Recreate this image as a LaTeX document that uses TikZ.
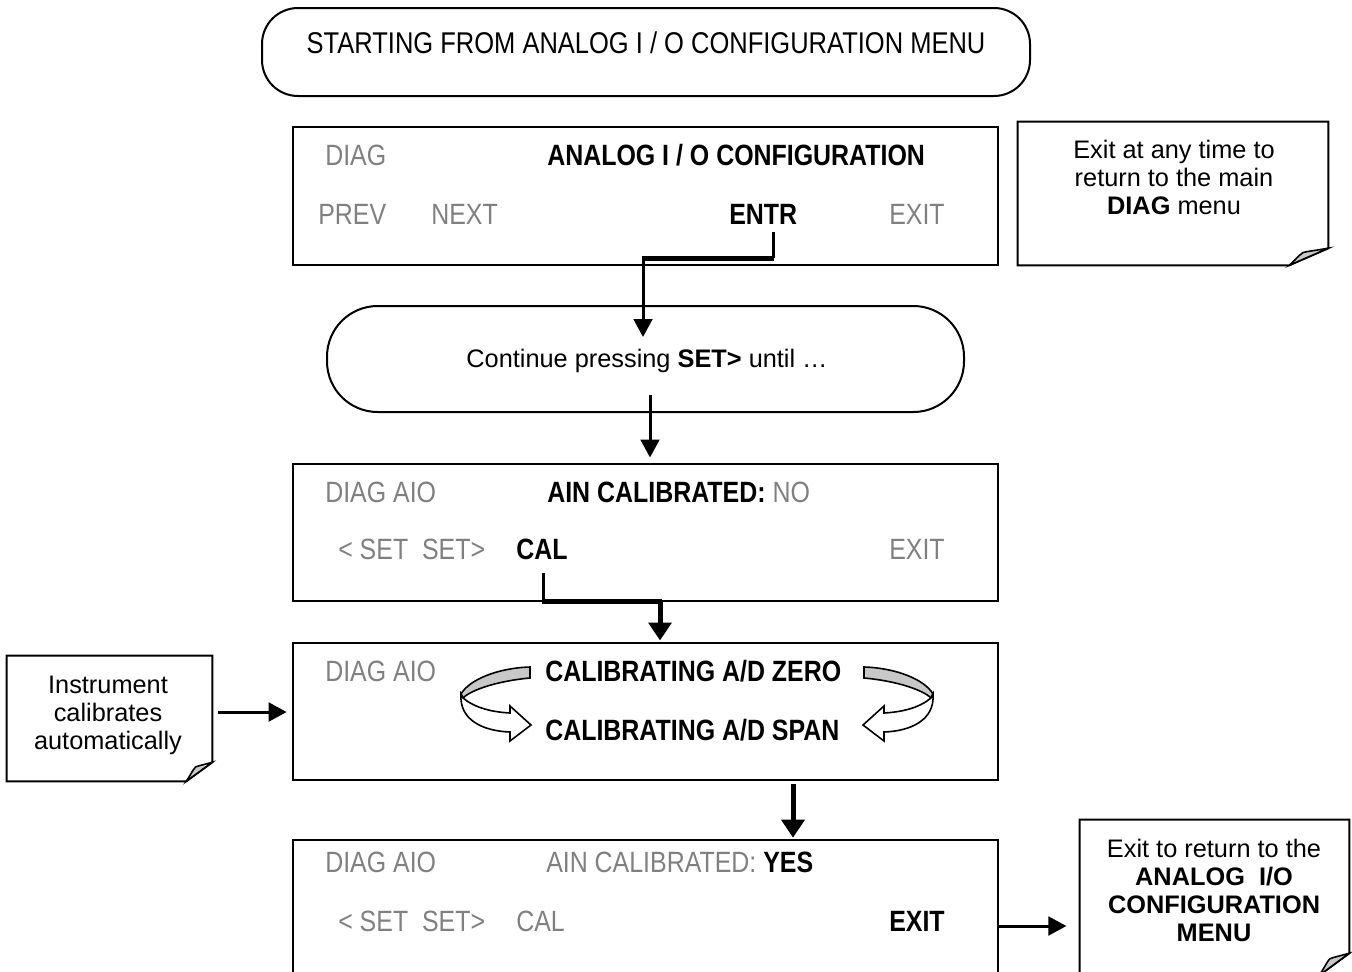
\documentclass[tikz,border=0pt]{standalone}
\usepackage{fontspec}
\setmainfont{Liberation Sans}
\newfontfamily\lcdfont[FakeStretch=0.85]{Liberation Sans}
\definecolor{dimgray}{RGB}{128,128,128}
\definecolor{foldgray}{RGB}{200,200,200}
\usetikzlibrary{arrows.meta,calc}

% note frame with a curled corner
\newcommand{\foldnote}[3]{%
  \draw[line width=1.5pt] (#1.north west) -- (#1.north east) -- ($(#1.south east)+(0,-#3)$) -- ($(#1.south east)+(-#2,0)$) -- (#1.south west) -- cycle;
  \filldraw[fill=foldgray, line width=1.2pt] ($(#1.south east)+(-#2,0)$) .. controls ($(#1.south east)+(-#2*0.75,-#3*0.5)$) and ($(#1.south east)+(-#2*0.7,-#3*0.8)$) .. ($(#1.south east)+(-#2*0.55,-#3*0.8)$) -- ($(#1.south east)+(0,-#3)$) -- cycle;}

\tikzset{
  panel/.style={draw, line width=1.5pt, minimum width=528.75pt, minimum height=103pt, inner sep=0pt},
  term/.style={draw, line width=1.5pt, inner sep=0pt},
  lcd/.style={font=\lcdfont\fontsize{22}{26}\selectfont, anchor=base west, inner sep=0pt},
  dimtext/.style={lcd, text=dimgray},
  lcdb/.style={lcd, font=\lcdfont\fontsize{22}{26}\selectfont\bfseries},
  notetext/.style={font=\fontsize{19}{21}\selectfont, align=center, inner sep=0pt},
  conn/.style={line width=2.25pt},
  thickconn/.style={line width=3.75pt},
  arrowtip/.style={-{Triangle[length=13.5pt,width=14pt]}},
  swirl/.pic={
    % back of the ribbon
    \filldraw[fill=foldgray, line width=1.2pt] (-167,-33) -- (-167,-22) .. controls (-200,-19) and (-226,-10) .. (-234,-2) -- (-236,-6) .. controls (-228,-20) and (-200,-32) .. (-167,-33) -- cycle;
    % front of the ribbon
    \filldraw[fill=white, line width=1.2pt] (-234,-2) .. controls (-222,8) and (-205,12) .. (-187,13) -- (-187,6) -- (-166,25) -- (-187,41) -- (-187,32) .. controls (-214,31) and (-238,20) .. (-236,-6) -- cycle;
  }
}

\begin{document}
\begin{tikzpicture}[x=0.75pt, y=-0.75pt]
    \useasboundingbox (0,0) rectangle (1352,971);
    \clip (0,0) rectangle (1352,971);

    % Start terminator
    \node[term, rounded corners=27pt, minimum width=576pt, minimum height=66pt] (start) at (646,52) {};
    \node[lcd, anchor=base, font=\lcdfont\fontsize{22.5}{26}\selectfont] (starttxt) at (646,53) {STARTING FROM ANALOG I / O CONFIGURATION MENU};

    % Analog I/O configuration screen
    \node[panel] (aio) at (645.5,196) {};
    \node[dimtext] (diag1) at (325,165) {DIAG};
    \node[lcdb] (title1) at (547,165) {ANALOG I / O CONFIGURATION};
    \node[dimtext] (prev) at (318,224) {PREV};
    \node[dimtext] (next) at (431,224) {NEXT};
    \node[lcdb] (entr) at (729,224) {ENTR};
    \node[dimtext] (exit1) at (889,224) {EXIT};

    % Note: exit any time
    \node[minimum width=232.5pt, minimum height=107.25pt] (note1) at (1173,193.5) {};
    \foldnote{note1}{39}{17}
    \node[notetext] (note1txt) at (1174,177) {Exit at any time to\\return to the main\\\textbf{DIAG} menu};

    % Continue terminator
    \node[term, rounded corners=38pt, minimum width=477.75pt, minimum height=79.5pt] (cont) at (645.5,359) {};
    \node[notetext] (conttxt) at (647,361) {Continue pressing \textbf{SET>} until …};

    % AIN calibrated: NO
    \node[panel] (ainno) at (645.5,532.5) {};
    \node[dimtext] (diag2) at (325,502) {DIAG AIO};
    \node[lcdb] (ain2) at (547,502) {AIN CALIBRATED: \textcolor{dimgray}{\mdseries NO}};
    \node[dimtext] (set2) at (338,559) {< SET~~SET>};
    \node[lcdb] (cal2) at (516,559) {CAL};
    \node[dimtext] (exit2) at (889,559) {EXIT};

    % Calibrating
    \node[panel] (calib) at (645.5,711.5) {};
    \node[dimtext] (diag3) at (325,681) {DIAG AIO};
    \node[lcdb] (zero) at (545,681) {CALIBRATING A/D ZERO};
    \node[lcdb] (span) at (545,740) {CALIBRATING A/D SPAN};
    \pic at (697,700) {swirl};
    \pic[xscale=-1] at (697,700) {swirl};

    % Note: automatic
    \node[minimum width=153.75pt, minimum height=93.75pt] (note2) at (109.5,718.5) {};
    \foldnote{note2}{26}{19}
    \node[notetext] (note2txt) at (108,715) {Instrument\\calibrates\\automatically};

    % AIN calibrated: YES
    \node[panel, minimum height=112pt] (ainyes) at (645.5,914.7) {};
    \node[dimtext] (diag4) at (325,872) {DIAG AIO};
    \node[dimtext] (ain4) at (546,872) {AIN CALIBRATED: \textcolor{black}{\bfseries YES}};
    \node[dimtext] (set4) at (338,931) {< SET~~SET>};
    \node[dimtext] (cal4) at (516,931) {CAL};
    \node[lcdb] (exit4) at (889,931) {EXIT};

    % Note: exit to menu
    \node[minimum width=201.75pt, minimum height=116.25pt] (note3) at (1214.5,897.5) {};
    \foldnote{note3}{30}{22}
    \node[notetext] (note3txt) at (1214,890) {Exit to return to the\\\textbf{ANALOG~~I/O}\\\textbf{CONFIGURATION}\\\textbf{MENU}};

    % Connectors
    \coordinate (entrbend) at (773,258);
    \coordinate (entrturn) at (643,258);
    \coordinate (enttip) at (643,337);
    \draw[conn] ([yshift=-6pt]entrbend |- entr.south) -- (entrbend);
    \draw[thickconn] ([xshift=0.6pt]entrbend) -- ([xshift=-1pt]entrturn);
    \draw[conn, arrowtip] (entrturn) -- (enttip);

    \coordinate (contout) at (650,395);
    \draw[conn, arrowtip] (contout) -- ([yshift=4pt]contout |- ainno.north);

    \coordinate (calbend) at (543,601);
    \coordinate (calturn) at (660,601);
    \draw[conn] ([yshift=-10pt]calbend |- cal2.south) -- (calbend);
    \draw[thickconn] ([xshift=-0.8pt]calbend) -- ([xshift=1.4pt]calturn);
    \draw[thickconn, -{Triangle[length=13.5pt,width=17pt]}] (calturn) -- ([yshift=1pt]calturn |- calib.north);

    \draw[conn, arrowtip, shorten <=4pt, shorten >=4pt] (note2.east |- 0,712) -- (calib.west |- 0,712);

    \coordinate (drop) at (793,0);
    \draw[thickconn, -{Triangle[length=13.5pt,width=17pt]}] ([yshift=-2pt]drop |- calib.south) -- ([yshift=1pt]drop |- ainyes.north);

    \coordinate (exitrow) at (0,926);
    \draw[conn, arrowtip, shorten >=10pt] (ainyes.east |- exitrow) -- (note3.west |- exitrow);
\end{tikzpicture}
\end{document}
